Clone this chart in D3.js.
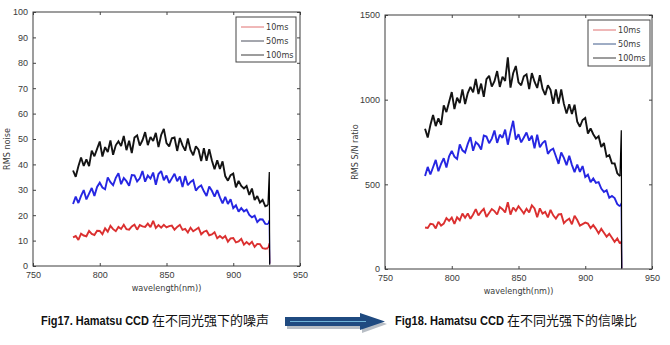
<!DOCTYPE html>
<html><head><meta charset="utf-8">
<script src="https://cdn.jsdelivr.net/npm/d3@7"></script>
<style>body{margin:0;background:#fff}svg{display:block}</style>
</head><body>
<svg id="c" width="670" height="345"></svg>
<script>
// ---------------- data ----------------
const wavelengths = [780,782,784,786,788,790,792,794,796,798,800,802,804,806,808,810,812,814,816,818,820,822,824,826,828,830,832,834,836,838,840,842,844,846,848,850,852,854,856,858,860,862,864,866,868,870,872,874,876,878,880,882,884,886,888,890,892,894,896,898,900,902,904,906,908,910,912,914,916,918,920,922,924,926];
const tailWavelengths = [927, 927.3];
const seriesNames = ["10ms", "50ms", "100ms"];

// Fig17: RMS noise
const noise10 = [11.3,11.8,10.3,12.7,12,11.7,13.8,12.6,12.2,13.9,13.8,12.5,14.8,13.5,15.8,14.5,13.7,15.4,14.6,16.2,14.5,14.3,15.6,16.3,14.3,16.1,15.6,15.4,16.7,15.3,17.8,15,16.1,15.1,16.2,15.2,15.7,15.9,14.3,15.4,16.2,14.2,14.6,13.2,15.1,13.7,14.4,15.1,12.5,13.5,13.9,12.1,12.4,13.3,10.9,11.8,10.9,11.8,9.6,10.9,11,9.3,9.7,10.7,8.4,9.4,8.5,9.5,7.5,8.7,8.6,7,6.8,7];
const noise50 = [24.4,27.3,24.8,27.6,29.9,26.2,28.5,30.7,27.6,31.1,32.8,30.9,30.2,34.9,33,31.8,34.7,36.5,32.2,34.6,33.4,31.6,35.8,35.7,33.3,34.5,37.4,33.2,35.6,34.4,36.8,32,36.2,37.4,33.8,35.6,32.7,34.5,36.3,33.4,35.2,31.1,35.4,31.8,33.1,33.8,29.7,31,31.7,29.4,27.6,31.3,29.6,27.3,29.9,27,24.7,27.2,24.4,26.3,22.8,23.9,21.4,22.8,21.5,22.2,20.1,19.2,19.8,17.3,18.4,18.3,16.6,16.5];
const noise100 = [37.6,35.1,39.3,42.7,39.4,42,39.3,45.4,43.2,46.1,49,43.1,46.8,44.9,49.4,43.8,47.5,49.1,47.2,51.2,45.6,49.3,44.5,50.6,51.4,47.4,49.5,52.7,47.6,50.8,49.2,52.4,46.8,51.6,54,48.4,47.1,50.3,50.6,45.3,50.4,47.5,45.4,50.2,45.7,43.6,47.1,45.8,41.3,46.4,41.4,46,41.5,38.1,41.6,38.2,41.2,35.4,33.6,35.8,36.4,31,33.5,31.5,30.5,31.5,28,30.5,26,27.5,25,26,23.5,24];
const noiseTail10 = [9, 1];
const noiseTail50 = [18, 1];
const noiseTail100 = [37, 0.5];

// Fig18: RMS S/N ratio
const snr10 = [245,242,267,264,240,279,256,268,301,285,304,266,305,288,327,303,328,297,322,354,316,339,355,308,331,354,342,322,366,353,334,395,321,363,343,371,350,328,356,334,376,358,306,358,327,337,305,349,317,298,322,324,271,287,297,264,315,289,256,265,274,268,241,259,237,210,237,214,191,208,185,160,180,150];
const snr50 = [549,603,558,601,644,577,621,654,599,665,698,663,650,736,701,688,739,779,698,749,734,706,788,782,743,770,818,745,793,775,823,734,810,875,764,796,748,777,806,758,787,713,793,719,744,758,680,701,711,666,621,688,656,613,669,615,572,617,574,608,543,557,513,535,509,513,475,455,465,421,431,419,383,370];
const snr100 = [828,776,850,910,844,890,851,966,927,986,1045,944,1011,980,1061,974,1039,1076,1043,1122,1033,1095,1017,1121,1141,1077,1109,1169,1075,1135,1111,1250,1071,1156,1199,1102,1085,1138,1149,1062,1157,1106,1069,1144,1065,1028,1085,1058,975,1060,977,1060,975,918,973,916,970,870,840,880,892,800,830,796,770,784,720,744,664,672,624,623,565,548];
const snrTail10 = [165, 4];
const snrTail50 = [390, 4];
const snrTail100 = [820, 2];

const xTicks = [750, 800, 850, 900, 950];
const noiseTicks = [0, 10, 20, 30, 40, 50, 60, 70, 80, 90, 100];
const snrTicks = [0, 500, 1000, 1500];

const xLabel = "wavelength(nm))";
const noiseLabel = "RMS noise";
const snrLabel = "RMS S/N ratio";
const captionLeftLatin = "Fig17. Hamatsu CCD ";
const captionLeftCJK = "在不同光强下的噪声";
const captionRightLatin = "Fig18. Hamatsu CCD ";
const captionRightCJK = "在不同光强下的信噪比";

// ---------------- drawing ----------------
const svg = d3.select("#c");
svg.append("rect").attr("width", 670).attr("height", 345).attr("fill", "#fff");

const seriesColors = ["#d81e1e", "#1414e0", "#000000"];
const tickFont = "'Liberation Sans', Arial, sans-serif";
const narrowFont = "'Liberation Sans Narrow', 'DejaVu Sans Condensed', 'Liberation Sans', sans-serif";

function pairs(xs, ys) { return xs.map((x, i) => [x, ys[i]]); }

function drawChart(opt) {
  const b = opt.box;
  const x = d3.scaleLinear().domain([750, 950]).range([b.x0, b.x1]);
  const y = d3.scaleLinear().domain([0, opt.yMax]).range([b.y1, b.y0]);
  const g = svg.append("g");

  // series
  const line = d3.line().x(d => x(d[0])).y(d => y(d[1]));
  opt.series.forEach((s, i) => {
    const pts = pairs(wavelengths, s.values);
    g.append("path").datum(pts).attr("d", line)
      .attr("fill", "none").attr("stroke", seriesColors[i])
      .attr("stroke-width", 1.9).attr("stroke-linejoin", "miter").attr("stroke-miterlimit", 2)
      .attr("opacity", 0.92);
    const tail = [pts[pts.length - 1]].concat(pairs(tailWavelengths, s.tail));
    g.append("path").datum(tail).attr("d", line)
      .attr("fill", "none").attr("stroke", seriesColors[i]).attr("stroke-width", 1.2);
  });

  // axes (inward ticks, MATLAB style)
  const styleAxis = sel => {
    sel.selectAll(".domain").remove();
    sel.selectAll(".tick line").attr("stroke", "#444");
    sel.selectAll(".tick text").attr("fill", "#3a3a3a")
      .style("font-family", tickFont).style("font-size", "9px");
  };
  const fmt = d3.format("d");
  g.append("g").attr("transform", `translate(0,${b.y1})`)
    .call(d3.axisBottom(x).tickValues(xTicks).tickFormat(fmt).tickSizeInner(-3).tickSizeOuter(0).tickPadding(6))
    .call(styleAxis);
  g.append("g").attr("transform", `translate(${b.x0},0)`)
    .call(d3.axisLeft(y).tickValues(opt.yTicks).tickFormat(fmt).tickSizeInner(-3).tickSizeOuter(0).tickPadding(5))
    .call(styleAxis);
  g.append("g").attr("transform", `translate(0,${b.y0})`)
    .call(d3.axisTop(x).tickValues(xTicks).tickSizeInner(-3).tickSizeOuter(0).tickFormat(""))
    .call(styleAxis);
  g.append("g").attr("transform", `translate(${b.x1},0)`)
    .call(d3.axisRight(y).tickValues(opt.yTicks).tickSizeInner(-3).tickSizeOuter(0).tickFormat(""))
    .call(styleAxis);

  // frame
  g.append("rect").attr("x", b.x0).attr("y", b.y0)
    .attr("width", b.x1 - b.x0).attr("height", b.y1 - b.y0)
    .attr("fill", "none").attr("stroke", "#3c3c3c").attr("stroke-width", 1);

  // axis labels
  g.append("text").attr("x", (b.x0 + b.x1) / 2).attr("y", b.y1 + 25)
    .attr("text-anchor", "middle").attr("fill", "#3a3a3a")
    .style("font-family", narrowFont).style("font-size", "9px").text(xLabel);
  g.append("text")
    .attr("transform", `translate(${opt.yLabelX},${(b.y0 + b.y1) / 2 + 10}) rotate(-90)`)
    .attr("text-anchor", "middle").attr("fill", "#3a3a3a")
    .style("font-family", narrowFont).style("font-size", "9px").text(opt.yLabel);

  // legend
  const L = opt.legend;
  const lg = g.append("g");
  lg.append("rect").attr("x", L.x).attr("y", L.y).attr("width", L.w).attr("height", L.h)
    .attr("fill", "#fff").attr("stroke", "#444").attr("stroke-width", 1);
  seriesNames.forEach((n, i) => {
    const yy = L.y + 10 + i * 14;
    lg.append("line").attr("x1", L.x + 5).attr("x2", L.x + 28).attr("y1", yy).attr("y2", yy)
      .attr("stroke", L.colors[i]).attr("stroke-width", 1);
    lg.append("text").attr("x", L.x + 30).attr("y", yy + 3)
      .attr("fill", "#3a3a3a").style("font-family", narrowFont).style("font-size", "9px").text(n);
  });
}

drawChart({
  box: {x0: 33, x1: 300, y0: 12, y1: 266},
  yMax: 100, yTicks: noiseTicks, yLabel: noiseLabel, yLabelX: 10,
  series: [
    {values: noise10, tail: noiseTail10},
    {values: noise50, tail: noiseTail50},
    {values: noise100, tail: noiseTail100}
  ],
  legend: {x: 236, y: 17, w: 60, h: 45, colors: ["#e07070", "#4a4f5c", "#3a3a3a"]}
});

drawChart({
  box: {x0: 385, x1: 652, y0: 15, y1: 269},
  yMax: 1500, yTicks: snrTicks, yLabel: snrLabel, yLabelX: 358,
  series: [
    {values: snr10, tail: snrTail10},
    {values: snr50, tail: snrTail50},
    {values: snr100, tail: snrTail100}
  ],
  legend: {x: 588, y: 20, w: 62, h: 46, colors: ["#e07070", "#3f5a8a", "#3a3a3a"]}
});

// captions
function caption(x, latin, cjk, latinW) {
  const t = svg.append("text").attr("x", x).attr("y", 325)
    .attr("fill", "#111").style("font-weight", "bold");
  t.append("tspan").style("font-family", "'Liberation Sans', Arial, sans-serif").style("font-size", "12px")
    .attr("textLength", latinW).attr("lengthAdjust", "spacingAndGlyphs").text(latin);
  t.append("tspan").style("font-family", "'Noto Sans CJK SC', sans-serif").style("font-size", "13px")
    .style("font-weight", "normal").text(cjk);
}
caption(41, captionLeftLatin, captionLeftCJK, 111);
caption(395, captionRightLatin, captionRightCJK, 112);

// arrow
const ag = svg.append("g");
ag.append("path").attr("d", "M287,319 L362,319 L362,315 L387,324 L362,333 L362,329 L287,329 Z")
  .attr("fill", "#9aa3ad").attr("opacity", 0.7);
ag.append("path").attr("d", "M285,317 L360,317 L360,313 L385,321.5 L360,330 L360,326 L285,326 Z")
  .attr("fill", "#1f4a80");
ag.append("line").attr("x1", 290).attr("x2", 366).attr("y1", 321.5).attr("y2", 321.5)
  .attr("stroke", "#6fb3d8").attr("stroke-width", 1.2);
</script>
</body></html>
